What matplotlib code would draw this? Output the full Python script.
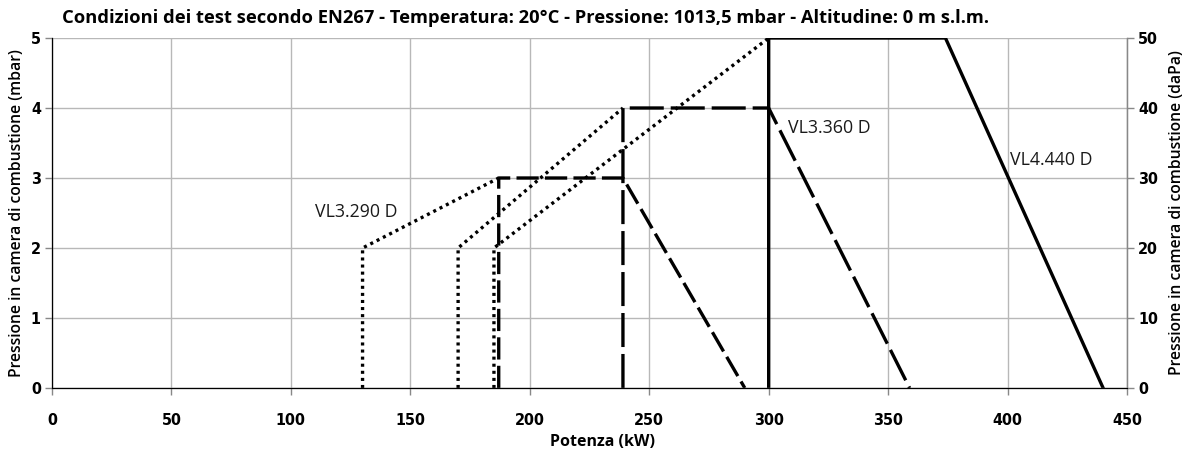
import matplotlib
matplotlib.use("Agg")
import matplotlib.pyplot as plt
from matplotlib.font_manager import FontProperties

plt.rcParams['font.family'] = ['Open Sans', 'DejaVu Sans']
plt.rcParams['lines.scale_dashes'] = False

# VL3.290 D
start_290_x = [130, 130, 187]
start_290_y = [0, 2, 3]
range_290_x = [187, 187, 239, 290]
range_290_y = [0, 3, 3, 0]

# VL3.360 D
start_360_x = [170, 170, 239]
start_360_y = [0, 2, 4]
range_360_x = [239, 239, 300, 359]
range_360_y = [0, 4, 4, 0]

# VL4.440 D
start_440_x = [185, 185, 300]
start_440_y = [0, 2, 5]
range_440_x = [300, 300, 374, 440]
range_440_y = [0, 5, 5, 0]

labels = ["VL3.290 D", "VL3.360 D", "VL4.440 D"]
label_pos = [(110, 2.51), (308, 3.71), (401, 3.26)]

xticks = list(range(0, 451, 50))
yticks = [0, 1, 2, 3, 4, 5]
yticks_dapa = [0, 10, 20, 30, 40, 50]

fig = plt.figure(figsize=(11.9, 4.55), dpi=100)
ax = fig.add_axes([52/1190, 1-388/455, (1127-52)/1190, (388-38)/455])

lw = 2.4
dot = (0, (2.2, 2.9))
ax.plot(start_290_x, start_290_y, color='black', lw=lw, linestyle=dot, dash_capstyle='butt')
ax.plot(start_360_x, start_360_y, color='black', lw=lw, linestyle=dot, dash_capstyle='butt')
ax.plot(start_440_x, start_440_y, color='black', lw=lw, linestyle=dot, dash_capstyle='butt')
ax.plot(range_290_x, range_290_y, color='black', lw=lw, linestyle=(0, (16, 4.5)), dash_capstyle='butt')
ax.plot(range_360_x, range_360_y, color='black', lw=lw, linestyle=(0, (24.5, 5)), dash_capstyle='butt')
ax.plot(range_440_x, range_440_y, color='black', lw=lw, solid_joinstyle='miter')

for txt, (tx, ty) in zip(labels, label_pos):
    ax.text(tx, ty, txt, fontsize=12.8, color='#1a1a1a', va='center', ha='left')

ax.set_xlim(0, 450)
ax.set_ylim(0, 5)
ax.set_xticks(xticks)
ax.set_yticks(yticks)
ax.grid(True, color='#b8b8b8', lw=1)
ax.set_axisbelow(True)
ax.spines['top'].set_visible(False)
for s in ['left', 'right', 'bottom']:
    ax.spines[s].set_color('#888888')
    ax.spines[s].set_linewidth(1)
ax.tick_params(axis='both', colors='#888888', length=5, width=1, labelcolor='black')
ax.tick_params(axis='x', pad=13)
ax.tick_params(axis='y', pad=3)
tick_font = FontProperties(family='DejaVu Sans', stretch='condensed', weight='bold', size=11.5)
for lab in ax.get_xticklabels() + ax.get_yticklabels():
    lab.set_fontproperties(tick_font)

ax2 = ax.twinx()
ax2.set_ylim(0, 50)
ax2.set_yticks(yticks_dapa)
ax2.spines['top'].set_visible(False)
ax2.spines['right'].set_color('#888888')
ax2.tick_params(axis='y', colors='#888888', length=5, width=1, labelcolor='black', pad=3)
for lab in ax2.get_yticklabels():
    lab.set_fontproperties(tick_font)

ax.set_xlabel("Potenza (kW)", fontsize=11.5, fontweight='bold', labelpad=4)
ax.xaxis.label.set_x(0.512)
ax.set_ylabel("Pressione in camera di combustione (mbar)", fontsize=11.3, fontweight='semibold', labelpad=4)
ax2.set_ylabel("Pressione in camera di combustione (daPa)", fontsize=11.3, fontweight='semibold', labelpad=8)

fig.text(62/1190, 1-18/455, "Condizioni dei test secondo EN267 - Temperatura: 20°C - Pressione: 1013,5 mbar - Altitudine: 0 m s.l.m.",
         fontsize=13.2, fontweight='bold', ha='left', va='center')

fig.savefig("out.png", dpi=100)
